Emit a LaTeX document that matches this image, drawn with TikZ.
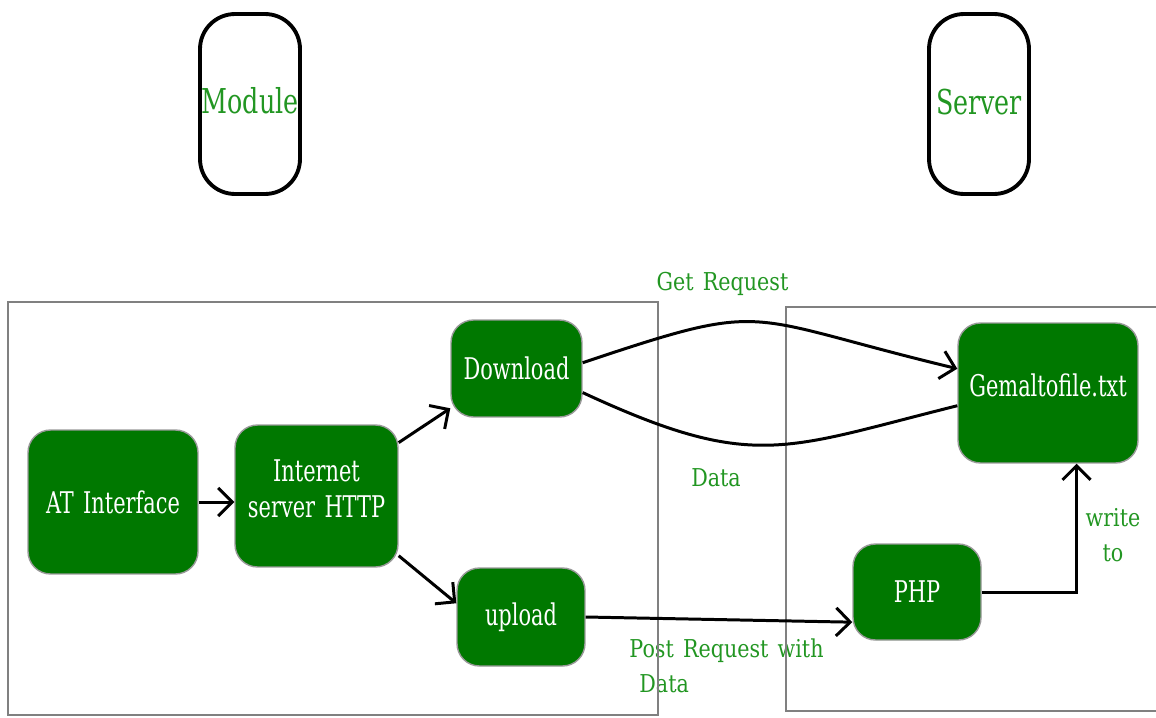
\documentclass[tikz,border=0pt]{standalone}
\usepackage{fontspec}
\setmainfont{DejaVu Serif}
\newfontfamily\nodefont{DejaVu Serif}[FakeStretch=0.70,WordSpace=1.4]
\newfontfamily\titlefont{DejaVu Serif}[FakeStretch=0.74]
\newfontfamily\labfont{DejaVu Serif}[FakeStretch=0.84,WordSpace=1.4]
\usetikzlibrary{arrows.meta,backgrounds}
\definecolor{boxgreen}{RGB}{0,120,0}
\definecolor{labgreen}{RGB}{34,150,34}
\definecolor{framegray}{RGB}{128,128,128}
\begin{document}
\begin{tikzpicture}[x=0.02cm,y=-0.02cm,
  gbox/.style={draw=gray!80, line width=0.8pt, fill=boxgreen, rounded corners=0.45cm,
    text=white, font=\nodefont\fontsize{17}{20.5}\selectfont, align=center, inner sep=0pt},
  tbox/.style={draw=black, line width=2.2pt, rounded corners=0.7cm, minimum width=2.0cm,
    minimum height=3.6cm, text=labgreen, font=\titlefont\fontsize{19.5}{24}\selectfont, inner sep=0pt},
  lab/.style={text=labgreen, font=\labfont\fontsize{14}{20}\selectfont, inner sep=0pt},
  conn/.style={line width=1.7pt, draw=black},
  arr/.style={conn, -{Straight Barb[length=8pt,width=16pt]}},
  framebox/.style={draw=framegray, line width=1.2pt}]
\useasboundingbox (0,0) rectangle (1156,717);

% header boxes
\node[tbox] (module) at (250,104) {Module\rule[-0.16cm]{0pt}{0pt}};
\node[tbox] (server) at (979,104) {Server\rule[-0.1cm]{0pt}{0pt}};

% green nodes
\node[gbox, minimum width=3.4cm, minimum height=2.88cm] (at) at (113,502) {AT Interface};
\node[gbox, minimum width=3.26cm, minimum height=2.84cm] (http) at (316.5,496) {Internet\\server HTTP\rule[-0.28cm]{0pt}{0pt}};
\node[gbox, minimum width=2.62cm, minimum height=1.94cm] (dl) at (516.5,368.5) {Download};
\node[gbox, minimum width=2.56cm, minimum height=1.96cm] (ul) at (521,617) {upload};
\node[gbox, minimum width=3.6cm, minimum height=2.8cm] (gem) at (1048,393) {Gemaltofile.txt\rule[-0.32cm]{0pt}{0pt}};
\node[gbox, minimum width=2.56cm, minimum height=1.92cm] (php) at (917,592) {PHP};

% connectors
\draw[arr] (at.east) -- (at.east -| http.west);
\draw[arr] (http.33) -- (dl.211);
\draw[arr] (http.-36) -- (ul.168);
\draw[arr] (dl.5) .. controls (773,299) and (738,316) .. (gem.165);
\draw[conn] (dl.-20) .. controls (754,472) and (783,449) .. (gem.188);
\draw[arr] (ul.east) -- (php.205);
\draw[arr] (php.east) -| (gem.-68);

\begin{pgfonlayer}{background}
  \node[lab, anchor=base] (getreq) at (722.5,290) {Get Request};
  \node[lab] (datalab) at (716,478) {Data};
  \node[lab, align=left] (postlab) at (726.5,666) {Post Request with\\\hspace*{0.2cm}Data};
  \node[lab, align=center] (writelab) at (1113,535.5) {write\\to};
  \draw[framebox] (8,302) rectangle (658,715);
  \draw[framebox] (1162,307) -| (786,711) -- (1162,711);
\end{pgfonlayer}
\end{tikzpicture}
\end{document}
